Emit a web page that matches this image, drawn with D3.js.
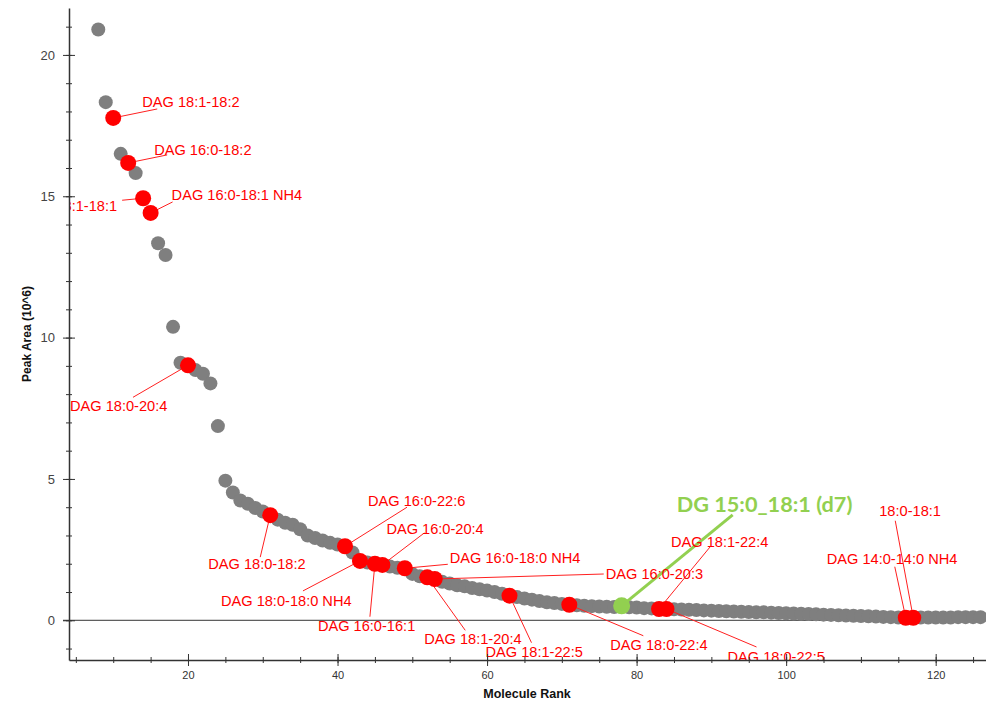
<!DOCTYPE html>
<html>
<head>
<meta charset="utf-8">
<script src="https://cdn.jsdelivr.net/npm/d3@7"></script>
<style>
  body { margin: 0; background: #fff; }
  svg { display: block; font-family: "Liberation Sans", Arial, sans-serif; }
</style>
</head>
<body>
<script>
// Peak area (10^6) for every molecule, ordered by rank, first rank is 8
var firstRank = 8;
var peakArea = [
  20.9, 18.33, 17.77, 16.5, 16.18, 15.82, 14.93, 14.41, 13.34, 12.92,
  10.38, 9.11, 9.02, 8.85, 8.72, 8.38, 6.87, 4.94, 4.52, 4.24,
  4.12, 3.97, 3.85, 3.72, 3.56, 3.45, 3.38, 3.22, 3.0, 2.91,
  2.82, 2.74, 2.68, 2.62, 2.4, 2.1, 2.04, 2.0, 1.96, 1.9,
  1.86, 1.84, 1.64, 1.56, 1.52, 1.46, 1.36, 1.3, 1.24, 1.2,
  1.14, 1.1, 1.05, 1.0, 0.94, 0.87, 0.82, 0.77, 0.73, 0.68,
  0.64, 0.61, 0.58, 0.55, 0.53, 0.51, 0.5, 0.49, 0.48, 0.47,
  0.51, 0.46, 0.45, 0.43, 0.42, 0.4, 0.4, 0.39, 0.38, 0.37,
  0.36, 0.35, 0.34, 0.33, 0.32, 0.31, 0.3, 0.29, 0.28, 0.28,
  0.27, 0.26, 0.25, 0.24, 0.23, 0.22, 0.21, 0.2, 0.19, 0.18,
  0.17, 0.16, 0.15, 0.14, 0.13, 0.12, 0.11, 0.1, 0.09, 0.09,
  0.1, 0.1, 0.1, 0.1, 0.1, 0.11, 0.11, 0.11, 0.11
];

// highlighted lipids (red)
var lipidNames = [
  "DAG 18:1-18:2", "DAG 16:0-18:2", "DAG 18:1-18:1", "DAG 16:0-18:1 NH4",
  "DAG 18:0-20:4", "DAG 18:0-18:2", "DAG 16:0-22:6", "DAG 18:0-18:0 NH4",
  "DAG 16:0-16:1", "DAG 16:0-20:4", "DAG 16:0-18:0 NH4", "DAG 18:1-20:4",
  "DAG 16:0-20:3", "DAG 18:1-22:5", "DAG 18:0-22:4", "DAG 18:1-22:4",
  "DAG 18:0-22:5", "DAG 14:0-14:0 NH4", "18:0-18:1"
];
var lipidRanks = [10, 12, 14, 15, 20, 31, 41, 43, 45, 46, 49, 52, 53, 63, 71, 83, 84, 116, 117];

// internal standard (green)
var standardName = "DG 15:0_18:1 (d7)";
var standardRank = 78;

var xTickLabels = [20, 40, 60, 80, 100, 120];
var yTickLabels = [0, 5, 10, 15, 20];

// label placement relative to the dot: text (tx, ty), leader end (lx, ly)
var labelLayout = [
  {tx: 29, ty: -16, lx: 44, ly: -9},
  {tx: 26, ty: -13, lx: 39, ly: -8},
  {tx: -26, ty: 8, lx: -21, ly: 2, end: true},
  {tx: 21, ty: -18, lx: 22, ly: -11},
  {tx: -118, ty: 40, lx: -55, ly: 32},
  {tx: -62, ty: 49, lx: -10, ly: 42},
  {tx: 23, ty: -45, lx: 62, ly: -39},
  {tx: -139, ty: 40, lx: -57, ly: 30},
  {tx: -57, ty: 62, lx: -5, ly: 53},
  {tx: 4, ty: -36, lx: 42, ly: -32},
  {tx: 45, ty: -11, lx: 43, ly: -4},
  {tx: -3, ty: 61, lx: 38, ly: 53},
  {tx: 171, ty: -5, lx: 169, ly: -5},
  {tx: -24, ty: 56, lx: 22, ly: 47},
  {tx: 41, ty: 40, lx: 74, ly: 31},
  {tx: 12, ty: -67, lx: 51, ly: -62},
  {tx: 61, ty: 48, lx: 90, ly: 38},
  {tx: -79, ty: -59, lx: -11, ly: -51},
  {tx: -34, ty: -107, lx: -18, ly: -97}
];
var standardLayout = {tx: 55, ty: -102, lx: 111, ly: -91};

function init() {
    var w = 986;
    var h = 706;
    var left = 69, right = 986, top = 8, bottom = 660;

    var points = peakArea.map(function(v, i) { return {rank: firstRank + i, value: v}; });
    function valueAt(rank) { return peakArea[rank - firstRank]; }

    var svg = d3.select("body").append("svg")
        .attr("width", w)
        .attr("height", h);

    var x = d3.scaleLinear().domain([4.085, 126.73]).range([left, right]);
    var y = d3.scaleLinear().domain([-1.405, 21.66]).range([bottom, top]);

    svg.append("clipPath").attr("id", "plot")
        .append("rect")
        .attr("x", left + 1).attr("y", 0)
        .attr("width", right - left).attr("height", bottom - 0);

    // zero line
    svg.append("line")
        .attr("x1", left - 6).attr("x2", right)
        .attr("y1", y(0)).attr("y2", y(0))
        .attr("stroke", "#333").attr("stroke-width", 1);

    var plot = svg.append("g").attr("clip-path", "url(#plot)");

    // grey dots
    plot.selectAll("circle.all")
        .data(points)
        .enter()
        .append("circle")
        .attr("class", "all")
        .attr("cx", function(d) { return x(d.rank); })
        .attr("cy", function(d) { return y(d.value); })
        .attr("r", 7)
        .attr("fill", "#7f7f7f");

    var lipids = lipidNames.map(function(n, i) {
        return {name: n, rank: lipidRanks[i], value: valueAt(lipidRanks[i]), pos: labelLayout[i]};
    });

    // leader lines
    plot.selectAll("line.leader")
        .data(lipids)
        .enter()
        .append("line")
        .attr("class", "leader")
        .attr("x1", function(d) { return x(d.rank); })
        .attr("y1", function(d) { return y(d.value); })
        .attr("x2", function(d) { return x(d.rank) + d.pos.lx; })
        .attr("y2", function(d) { return y(d.value) + d.pos.ly; })
        .attr("stroke", "#ff2020")
        .attr("stroke-width", 1);

    var std = {rank: standardRank, value: valueAt(standardRank)};
    plot.append("line")
        .attr("x1", x(std.rank)).attr("y1", y(std.value))
        .attr("x2", x(std.rank) + standardLayout.lx)
        .attr("y2", y(std.value) + standardLayout.ly)
        .attr("stroke", "#92d050")
        .attr("stroke-width", 3);

    // red dots
    plot.selectAll("circle.lipid")
        .data(lipids)
        .enter()
        .append("circle")
        .attr("class", "lipid")
        .attr("cx", function(d) { return x(d.rank); })
        .attr("cy", function(d) { return y(d.value); })
        .attr("r", 8)
        .attr("fill", "#ff0000");

    plot.append("circle")
        .attr("cx", x(std.rank)).attr("cy", y(std.value))
        .attr("r", 8.5)
        .attr("fill", "#92d050");

    // labels
    plot.selectAll("text.lipid")
        .data(lipids)
        .enter()
        .append("text")
        .attr("class", "lipid")
        .attr("x", function(d) { return x(d.rank) + d.pos.tx; })
        .attr("y", function(d) { return y(d.value) + d.pos.ty; })
        .attr("dy", "0.36em")
        .attr("text-anchor", function(d) { return d.pos.end ? "end" : "start"; })
        .attr("fill", "#ff0000")
        .style("font-size", "14.6px")
        .text(function(d) { return d.name; });

    plot.append("text")
        .attr("x", x(std.rank) + standardLayout.tx)
        .attr("y", y(std.value) + standardLayout.ty)
        .attr("dy", "0.36em")
        .attr("fill", "#92d050")
        .style("font-family", "Lato, 'Open Sans', sans-serif")
        .style("font-weight", "bold")
        .style("font-size", "21.7px")
        .text(standardName);

    // axes: minor ticks
    var yMinor = svg.append("g")
        .attr("transform", "translate(" + left + ",0)")
        .call(d3.axisLeft(y).tickValues(d3.range(-1, 22)).tickSize(3).tickSizeOuter(0).tickFormat(""));
    yMinor.selectAll(".tick line").attr("x1", 3).attr("x2", -3).attr("stroke", "#333");
    yMinor.select(".domain").attr("stroke", "#333").attr("stroke-width", 1.5);

    var yAxis = svg.append("g")
        .attr("transform", "translate(" + left + ",0)")
        .call(d3.axisLeft(y).tickValues(yTickLabels).tickSize(6).tickPadding(8).tickSizeOuter(0));
    yAxis.select(".domain").remove();
    yAxis.selectAll(".tick line").attr("x1", 6).attr("x2", -6).attr("stroke", "#333");
    yAxis.selectAll(".tick text")
        .attr("fill", "#444")
        .style("font-size", "13px");

    var xMinor = svg.append("g")
        .attr("transform", "translate(0," + bottom + ")")
        .call(d3.axisBottom(x).tickValues(d3.range(5, 127, 5)).tickSize(3).tickSizeOuter(0).tickFormat(""));
    xMinor.selectAll(".tick line").attr("y1", -3).attr("y2", 3).attr("stroke", "#333");
    xMinor.select(".domain").attr("stroke", "#333").attr("stroke-width", 1.5);

    var xAxis = svg.append("g")
        .attr("transform", "translate(0," + bottom + ")")
        .call(d3.axisBottom(x).tickValues(xTickLabels).tickSize(6).tickPadding(5).tickSizeOuter(0));
    xAxis.select(".domain").remove();
    xAxis.selectAll(".tick line").attr("y1", -6).attr("y2", 6).attr("stroke", "#333");
    xAxis.selectAll(".tick text")
        .attr("fill", "#333")
        .style("font-size", "11px");

    // axis titles
    svg.append("text")
        .attr("transform", "translate(27," + ((top + bottom) / 2) + ") rotate(-90)")
        .attr("text-anchor", "middle")
        .attr("dy", "0.36em")
        .style("font-size", "12px")
        .style("font-weight", "bold")
        .attr("fill", "#111")
        .text("Peak Area (10^6)");

    svg.append("text")
        .attr("x", 527)
        .attr("y", 693)
        .attr("dy", "0.36em")
        .attr("text-anchor", "middle")
        .style("font-size", "12.5px")
        .style("font-weight", "bold")
        .attr("fill", "#111")
        .text("Molecule Rank");
}
window.onload = init;
</script>
</body>
</html>
